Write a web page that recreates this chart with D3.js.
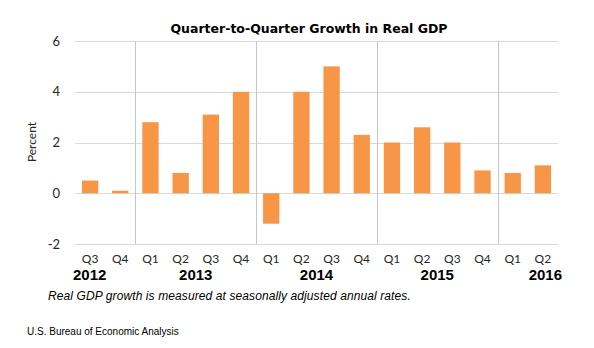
<!DOCTYPE html>
<html>
<head>
<meta charset="utf-8">
<script src="https://cdn.jsdelivr.net/npm/d3@7"></script>
<style>
  body { margin: 0; background: #fff; }
  svg { display: block; }
</style>
</head>
<body>
<div id="chart"></div>
<script>
// Quarter-to-quarter growth in real GDP, 2012 Q3 - 2016 Q2

var years = ["2012", "2013", "2014", "2015", "2016"];
var quarterYear = ["2012", "2012",
  "2013", "2013", "2013", "2013",
  "2014", "2014", "2014", "2014",
  "2015", "2015", "2015", "2015",
  "2016", "2016"];
var quarterName = ["Q3", "Q4",
  "Q1", "Q2", "Q3", "Q4",
  "Q1", "Q2", "Q3", "Q4",
  "Q1", "Q2", "Q3", "Q4",
  "Q1", "Q2"];
var growth = [0.5, 0.1,
  2.8, 0.8, 3.1, 4.0,
  -1.2, 4.0, 5.0, 2.3,
  2.0, 2.6, 2.0, 0.9,
  0.8, 1.1];
var yTicks = [-2, 0, 2, 4, 6];

var width = 594, height = 348;
var plotLeft = 75, plotRight = 558, plotTop = 41, plotBottom = 244;

var svg = d3.select("#chart").append("svg")
  .attr("width", width)
  .attr("height", height);

var ids = quarterName.map((q, i) => quarterYear[i] + q);

var x = d3.scaleBand()
  .domain(ids)
  .range([plotLeft, plotRight])
  .paddingInner(0.46)
  .paddingOuter(0.23);

var y = d3.scaleLinear()
  .domain([-2, 6])
  .range([plotBottom, plotTop]);

//horizontal gridlines
svg.append("g")
  .selectAll("line")
  .data(yTicks)
  .enter().append("line")
    .attr("x1", plotLeft)
    .attr("x2", plotRight)
    .attr("y1", d => Math.round(y(d)) + 0.5)
    .attr("y2", d => Math.round(y(d)) + 0.5)
    .attr("stroke", "#d9d9d9")
    .attr("stroke-width", 1);

//year separators, at the start of each year after the first
var step = x.step();
var yearStart = years.map(yr => quarterYear.indexOf(yr));
svg.append("g")
  .selectAll("line")
  .data(yearStart.slice(1))
  .enter().append("line")
    .attr("x1", i => Math.round(plotLeft + i * step) + 0.5)
    .attr("x2", i => Math.round(plotLeft + i * step) + 0.5)
    .attr("y1", plotTop)
    .attr("y2", plotBottom)
    .attr("stroke", "#c6c6c6")
    .attr("stroke-width", 1);

//bars
svg.append("g")
  .selectAll("rect")
  .data(growth)
  .enter().append("rect")
    .attr("x", (d, i) => x(ids[i]))
    .attr("width", x.bandwidth())
    .attr("y", d => y(Math.max(0, d)))
    .attr("height", d => Math.abs(y(d) - y(0)))
    .attr("fill", "#f79646");

//y axis labels (plain hyphen for negatives, like the original)
var yAxis = d3.axisLeft(y)
  .tickValues(yTicks)
  .tickFormat(d => String(d))
  .tickSize(0)
  .tickPadding(0);
svg.append("g")
  .attr("transform", "translate(60,0)")
  .call(yAxis)
  .call(g => g.select(".domain").remove())
  .selectAll("text")
    .attr("font-family", "Lato, 'Open Sans', sans-serif")
    .attr("font-size", 13)
    .attr("fill", "#262626");

svg.append("text")
  .attr("transform", "translate(36,142) rotate(-90)")
  .attr("text-anchor", "middle")
  .attr("font-family", "Lato, 'Open Sans', sans-serif")
  .attr("font-size", 12)
  .attr("fill", "#262626")
  .text("Percent");

//quarter labels
svg.append("g")
  .selectAll("text")
  .data(quarterName)
  .enter().append("text")
    .attr("x", (d, i) => x(ids[i]) + x.bandwidth() / 2)
    .attr("y", 263)
    .attr("text-anchor", "middle")
    .attr("font-family", "Lato, 'Open Sans', sans-serif")
    .attr("font-size", 12)
    .attr("fill", "#262626")
    .text(d => d);

//year labels: first one flush left, last one flush right, others centred
svg.append("g")
  .selectAll("text")
  .data(years)
  .enter().append("text")
    .attr("x", (d, k) => {
      if (k === 0) return plotLeft - 2;
      if (k === years.length - 1) return plotRight + 4;
      var s = yearStart[k], e = yearStart[k + 1];
      return plotLeft + (s + e) / 2 * step;
    })
    .attr("y", 280)
    .attr("text-anchor", (d, k) => k === 0 ? "start" : (k === years.length - 1 ? "end" : "middle"))
    .attr("font-family", "'Liberation Sans', Arial, sans-serif")
    .attr("font-weight", "bold")
    .attr("font-size", 15)
    .attr("fill", "#000")
    .text(d => d);

//title
svg.append("text")
  .attr("x", 309)
  .attr("y", 33)
  .attr("text-anchor", "middle")
  .attr("font-family", "'DejaVu Sans', Verdana, sans-serif")
  .attr("font-weight", "bold")
  .attr("font-size", 12.5)
  .attr("fill", "#000")
  .text("Quarter-to-Quarter Growth in Real GDP");

//notes
svg.append("text")
  .attr("x", 48)
  .attr("y", 300)
  .attr("font-family", "'Liberation Sans', Arial, sans-serif")
  .attr("font-style", "italic")
  .attr("font-size", 12)
  .attr("letter-spacing", 0.1)
  .attr("fill", "#000")
  .text("Real GDP growth is measured at seasonally adjusted annual rates.");

svg.append("text")
  .attr("x", 27)
  .attr("y", 335)
  .attr("font-family", "'Liberation Sans', Arial, sans-serif")
  .attr("font-size", 10)
  .attr("fill", "#000")
  .text("U.S. Bureau of Economic Analysis");
</script>
</body>
</html>
